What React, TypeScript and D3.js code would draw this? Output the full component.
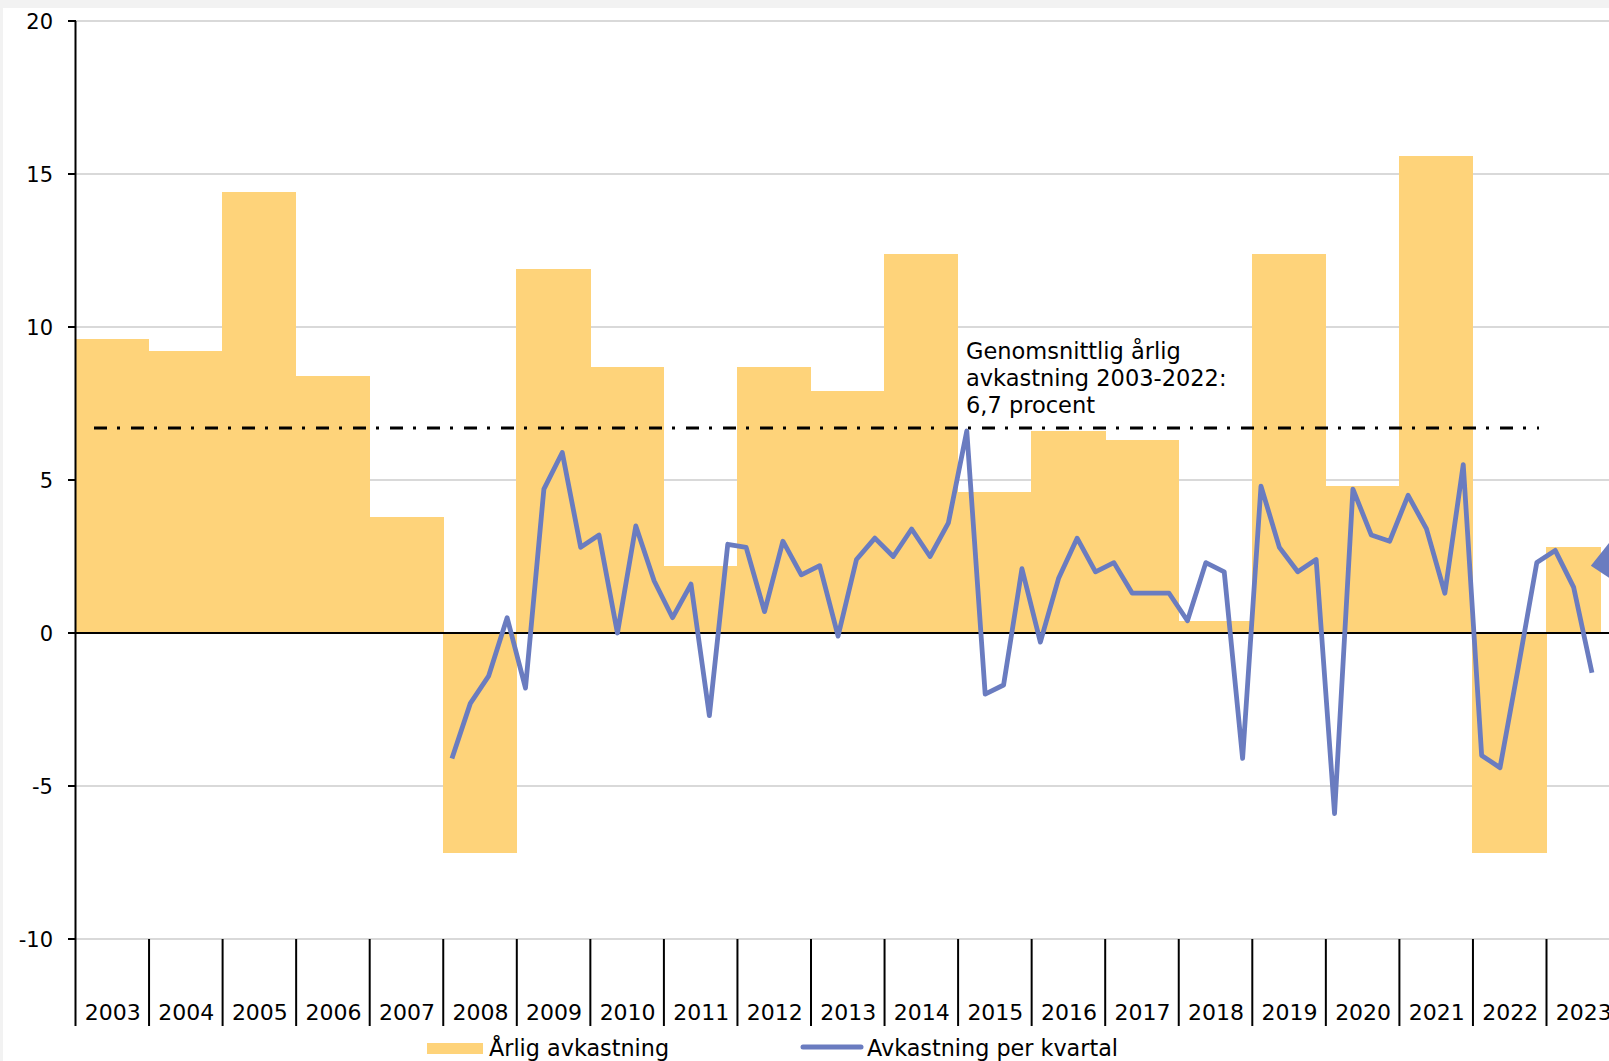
import * as d3 from 'd3';
import { useEffect, useRef } from 'react';

const years = ['2003', '2004', '2005', '2006', '2007', '2008', '2009', '2010', '2011', '2012',
  '2013', '2014', '2015', '2016', '2017', '2018', '2019', '2020', '2021', '2022', '2023'];

// årlig avkastning, procent
const annual = [9.6, 9.2, 14.4, 8.4, 3.8, -7.2, 11.9, 8.7, 2.2, 8.7,
  7.9, 12.4, 4.6, 6.6, 6.3, 0.4, 12.4, 4.8, 15.6, -7.2, 2.8];

// antal kvartal som ingår i stapeln (2023 är ofullständigt)
const quartersInYear = [4, 4, 4, 4, 4, 4, 4, 4, 4, 4, 4, 4, 4, 4, 4, 4, 4, 4, 4, 4, 3];

// avkastning per kvartal, från 2008 K1
const quarterStart = '2008';
const quarterly = [
  -4.1, -2.3, -1.4, 0.5,
  -1.8, 4.7, 5.9, 2.8,
  3.2, 0.0, 3.5, 1.7,
  0.5, 1.6, -2.7, 2.9,
  2.8, 0.7, 3.0, 1.9,
  2.2, -0.1, 2.4, 3.1,
  2.5, 3.4, 2.5, 3.6,
  6.6, -2.0, -1.7, 2.1,
  -0.3, 1.8, 3.1, 2.0,
  2.3, 1.3, 1.3, 1.3,
  0.4, 2.3, 2.0, -4.1,
  4.8, 2.8, 2.0, 2.4,
  -5.9, 4.7, 3.2, 3.0,
  4.5, 3.4, 1.3, 5.5,
  -4.0, -4.4, -1.1, 2.3,
  2.7, 1.5, -1.3,
];

const average = 6.7;
const averageLabel = ['Genomsnittlig årlig', 'avkastning 2003-2022:', '6,7 procent'];
const yTicks = [20, 15, 10, 5, 0, -5, -10];
const legendLabels = ['Årlig avkastning', 'Avkastning per kvartal'];
const pointerValue = 2.2;

const W = 1609;
const H = 1061;
const barColor = '#fed37a';
const lineColor = '#6a7cc0';
const font = '"DejaVu Sans", Verdana, sans-serif';

function App() {
  const ref = useRef<SVGSVGElement>(null);

  useEffect(() => {
    const svg = d3.select(ref.current);
    svg.selectAll('*').remove();

    svg.append('rect').attr('width', W).attr('height', H).attr('fill', '#f2f2f2');
    svg.append('rect').attr('x', 3).attr('y', 8).attr('width', W).attr('height', H).attr('fill', '#fff');

    const x = d3.scaleBand().domain(years).range([75, 75 + 21 * 73.55]).padding(0);
    const y = d3.scaleLinear().domain([-10, 20]).range([939, 21]);
    const bw = x.bandwidth();

    // gridlines
    svg.append('g')
      .selectAll('line')
      .data(yTicks.filter(d => d !== 0))
      .enter()
      .append('line')
      .attr('x1', 75).attr('x2', W)
      .attr('y1', d => y(d)).attr('y2', d => y(d))
      .attr('stroke', '#d9d9d9').attr('stroke-width', 2);

    // bars
    svg.append('g')
      .selectAll('rect')
      .data(annual)
      .enter()
      .append('rect')
      .attr('x', (d, i) => x(years[i])!)
      .attr('width', (d, i) => bw * quartersInYear[i] / 4 + (quartersInYear[i] === 4 ? 0.8 : 0))
      .attr('y', d => y(Math.max(0, d)))
      .attr('height', d => Math.abs(y(d) - y(0)))
      .attr('fill', barColor)
      .attr('shape-rendering', 'crispEdges');

    // zero line
    svg.append('line')
      .attr('x1', 75).attr('x2', W)
      .attr('y1', y(0)).attr('y2', y(0))
      .attr('stroke', '#000').attr('stroke-width', 2);

    // y axis
    svg.append('line')
      .attr('x1', 75.5).attr('x2', 75.5)
      .attr('y1', y(20)).attr('y2', 1026)
      .attr('stroke', '#000').attr('stroke-width', 2);
    const yt = svg.append('g');
    yt.selectAll('line')
      .data(yTicks)
      .enter()
      .append('line')
      .attr('x1', 68).attr('x2', 76)
      .attr('y1', d => y(d)).attr('y2', d => y(d))
      .attr('stroke', '#000').attr('stroke-width', 2);
    yt.selectAll('text')
      .data(yTicks)
      .enter()
      .append('text')
      .attr('x', 53)
      .attr('y', d => y(d) + 8)
      .attr('text-anchor', 'end')
      .style('font-family', font)
      .style('font-size', '21px')
      .attr('fill', '#000')
      .text(d => d);

    // category ticks and labels
    const xt = svg.append('g');
    xt.selectAll('line')
      .data(years.slice(1))
      .enter()
      .append('line')
      .attr('x1', d => x(d)! + 0.5).attr('x2', d => x(d)! + 0.5)
      .attr('y1', y(-10)).attr('y2', 1026)
      .attr('stroke', '#000').attr('stroke-width', 2);
    xt.selectAll('text')
      .data(years)
      .enter()
      .append('text')
      .attr('x', d => x(d)! + bw / 2 + 1)
      .attr('y', 1020)
      .attr('text-anchor', 'middle')
      .style('font-family', font)
      .style('font-size', '22px')
      .attr('fill', '#000')
      .text(d => d);

    // average line
    svg.append('line')
      .attr('x1', 94).attr('x2', 1539)
      .attr('y1', y(average)).attr('y2', y(average))
      .attr('stroke', '#000').attr('stroke-width', 3.2)
      .attr('stroke-dasharray', '13 10 3 11');

    svg.append('text')
      .attr('x', 966)
      .attr('y', 359)
      .style('font-family', font)
      .style('font-size', '22.5px')
      .attr('fill', '#000')
      .selectAll('tspan')
      .data(averageLabel)
      .enter()
      .append('tspan')
      .attr('x', 966)
      .attr('dy', (d, i) => (i === 0 ? 0 : 27))
      .text(d => d);

    // quarterly line
    const startIdx = years.indexOf(quarterStart);
    const qx = (i: number) => {
      const yr = years[startIdx + Math.floor(i / 4)];
      return x(yr)! + ((i % 4) + 0.5) * bw / 4;
    };
    const line = d3.line<number>().x((d, i) => qx(i)).y(d => y(d));
    svg.append('path')
      .datum(quarterly)
      .attr('d', line)
      .attr('fill', 'none')
      .attr('stroke', lineColor)
      .attr('stroke-width', 4.8)
      .attr('stroke-linejoin', 'round');

    // pointer marker at right edge
    const px = x('2023')! + bw * 0.61;
    const py = y(pointerValue);
    svg.append('path')
      .attr('d', `M${px},${py} L${px + 24},${py - 30} L${px + 24},${py + 16} Z`)
      .attr('fill', lineColor);

    // legend
    const lg = svg.append('g').style('font-family', font).style('font-size', '22.3px');
    lg.append('rect').attr('x', 427).attr('y', 1043).attr('width', 56).attr('height', 11).attr('fill', barColor);
    lg.append('text').attr('x', 489).attr('y', 1056).text(legendLabels[0]);
    lg.append('line').attr('x1', 803).attr('x2', 861).attr('y1', 1047).attr('y2', 1047)
      .attr('stroke', lineColor).attr('stroke-width', 5).attr('stroke-linecap', 'round');
    lg.append('text').attr('x', 867).attr('y', 1056).text(legendLabels[1]);
  }, []);

  return (
    <svg ref={ref} width={W} height={H}
      style={{ position: 'absolute', left: 0, top: 0, display: 'block' }} />
  );
}

export default App;
